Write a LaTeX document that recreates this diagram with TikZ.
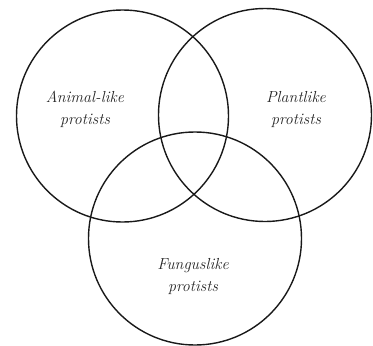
\documentclass[tikz,border=0pt]{standalone}
\usepackage{fontspec}
\setmainfont{Latin Modern Roman}
\begin{document}
\begin{tikzpicture}[x=1pt,y=-1pt,
  ring/.style={draw=black!90, line width=1.4pt},
  lbl/.style={font=\fontsize{16}{22}\selectfont\itshape, align=center, text=black!85}]
\useasboundingbox (0,0) rectangle (373,346);
\node[ring, circle, minimum size=212pt, inner sep=0pt] (animal) at (122.5,116) {};
\node[ring, circle, minimum size=213pt, inner sep=0pt] (plant) at (265,115) {};
\node[ring, circle, minimum size=213pt, inner sep=0pt] (fungus) at (195,238.5) {};
\node[lbl] (ta) at (85,109) {Animal-like\\protists};
\node[lbl] (tp) at (296,109) {Plantlike\\protists};
\node[lbl] (tf) at (193,276) {Funguslike\\protists};
\end{tikzpicture}
\end{document}
